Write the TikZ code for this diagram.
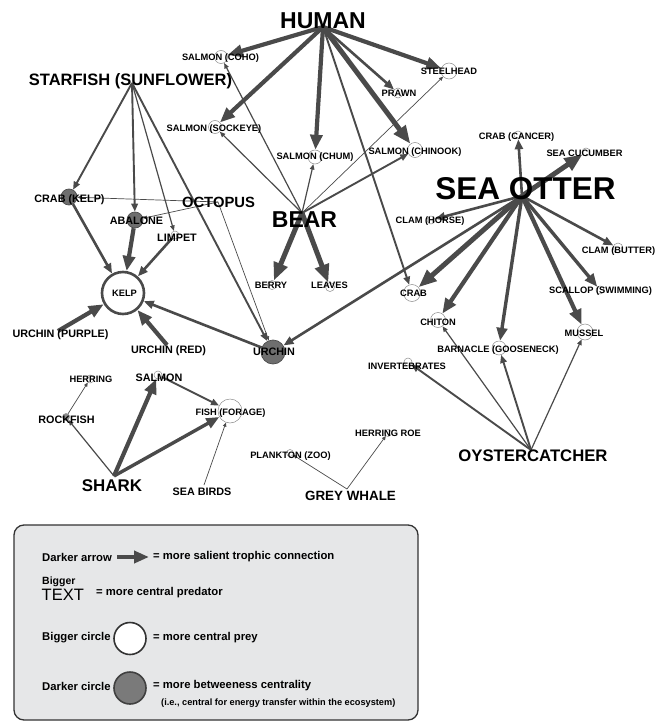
\documentclass[tikz,border=0pt]{standalone}
\usepackage{fontspec}
\setmainfont{Liberation Sans}
\usetikzlibrary{arrows.meta}
\definecolor{edgec}{HTML}{4A4A4A}
\definecolor{nodegray}{HTML}{6E6E6E}
\definecolor{rockgray}{HTML}{8C8C8C}
\definecolor{legbg}{HTML}{E6E7E8}
\definecolor{leggray}{HTML}{7A7A7A}
\begin{document}
\begin{tikzpicture}[x=1pt,y=-1pt,
  prey/.style={circle,draw=black!45,line width=0.5pt,fill=white,inner sep=0pt,minimum size=#1},
  darkprey/.style={circle,draw=black!70,line width=0.7pt,fill=nodegray,inner sep=0pt,minimum size=#1},
  lbl/.style={inner sep=0pt,font=\bfseries\fontsize{9.3}{10}\selectfont},
  lblm/.style={inner sep=0pt,font=\bfseries\fontsize{10.8}{12}\selectfont},
  predl/.style={inner sep=0pt,font=\bfseries\fontsize{#1}{#1}\selectfont},
  legt/.style={inner sep=0pt,anchor=west,font=\bfseries\fontsize{11.3}{12}\selectfont},
  w1/.style={draw=edgec,line width=0.7pt,-{Triangle[length=4pt,width=3.5pt]}},
  w2/.style={draw=edgec,line width=1.2pt,-{Triangle[length=5.5pt,width=4.5pt]}},
  w3/.style={draw=edgec,line width=1.9pt,-{Triangle[length=8pt,width=6.5pt]}},
  w4/.style={draw=edgec,line width=2.6pt,-{Triangle[length=10pt,width=8pt]}},
  w5/.style={draw=edgec,line width=3.4pt,-{Triangle[length=13pt,width=10.5pt]}},
  w6/.style={draw=edgec,line width=4.2pt,-{Triangle[length=15pt,width=12pt]}},
  w7/.style={draw=edgec,line width=5pt,-{Triangle[length=18pt,width=14pt]}}
]
\useasboundingbox (0,0) rectangle (662,725);

% hub points of predators
\coordinate (hHuman) at (323,27);
\coordinate (hBear) at (302,213);
\coordinate (hStar) at (132,83);
\coordinate (hOct) at (218,202);
\coordinate (hOtter) at (522,196);
\coordinate (hOyster) at (531,450);
\coordinate (hShark) at (114,476);
\coordinate (hPurple) at (58,331);
\coordinate (hRed) at (167,345);
\coordinate (hBirds) at (204,485);
\coordinate (hWhale) at (347,489);

% prey circles
\node[prey=13pt] (coho) at (221,57) {};
\node[prey=16pt] (steel) at (449,71) {};
\node[prey=10pt] (prawn) at (398,93) {};
\node[prey=13pt] (sock) at (215,127) {};
\node[prey=14pt] (chum) at (315,157) {};
\node[prey=15pt] (chin) at (415,150) {};
\node[prey=8pt] (cancer) at (518,135) {};
\node[prey=8pt] (cucum) at (586,152) {};
\node[prey=8pt] (horse) at (431,220) {};
\node[prey=10pt] (butter) at (618,248) {};
\node[prey=8pt] (scallop) at (600,290) {};
\node[prey=17pt] (crab) at (412,293) {};
\node[prey=15pt] (chiton) at (438,320) {};
\node[prey=16pt] (mussel) at (585,332) {};
\node[prey=14pt] (barn) at (499,348) {};
\node[prey=8pt] (invert) at (408,362) {};
\node[prey=7pt] (roe) at (388,433) {};
\node[prey=7pt] (plank) at (290,453) {};
\node[prey=24pt] (fish) at (230,411) {};
\node[prey=8pt] (salmon) at (158,375) {};
\node[prey=8pt] (herring) at (90,379) {};
\node[prey=7pt,fill=rockgray] (rock) at (66,417) {};
\node[darkprey=24pt] (urchin) at (273,352) {};
\node[prey=42pt,draw=edgec,line width=2.6pt] (kelp) at (123,293) {};
\node[darkprey=16pt] (crabk) at (69,197) {};
\node[darkprey=16pt] (abal) at (135,220) {};
\node[prey=8pt] (limpet) at (175,235) {};
\node[prey=9pt] (berry) at (272,285) {};
\node[prey=9pt] (leaves) at (330,287) {};

% connectors
\draw[w6] (hHuman) -- (coho);
\draw[w6] (hHuman) -- (sock);
\draw[w6] (hHuman) -- (chum);
\draw[w7] (hHuman) -- (chin);
\draw[w4] (hHuman) -- (prawn);
\draw[w6] (hHuman) -- (steel);
\draw[w3] (hHuman) -- (crab);

\draw[w2] (hBear) -- (coho);
\draw[w2] (hBear) -- (sock);
\draw[w2] (hBear) -- (chum);
\draw[w3] (hBear) -- (chin);
\draw[w1] (hBear) -- (steel);
\draw[w7] (hBear) -- (berry);
\draw[w7] (hBear) -- (leaves);

\draw[w3] (hStar) -- (crabk);
\draw[w3] (hStar) -- (abal);
\draw[w2] (hStar) -- (limpet);
\draw[w3] (hStar) -- (urchin);

\draw[w1] (hOct) -- (crabk);
\draw[w1] (hOct) -- (abal);
\draw[w1] (hOct) -- (urchin);

\draw[w4] (crabk) -- (kelp);
\draw[w6] (abal) -- (kelp);
\draw[w4] (limpet) -- (kelp);
\draw[w4] (urchin) -- (kelp);
\draw[w6] (hPurple) -- (kelp);
\draw[w6] (hRed) -- (kelp);

\draw[w4] (hOtter) -- (cancer);
\draw[w7] (hOtter) -- (cucum);
\draw[w4] (hOtter) -- (horse);
\draw[w4] (hOtter) -- (butter);
\draw[w5] (hOtter) -- (scallop);
\draw[w6] (hOtter) -- (mussel);
\draw[w5] (hOtter) -- (barn);
\draw[w6] (hOtter) -- (chiton);
\draw[w7] (hOtter) -- (crab);
\draw[w4] (hOtter) -- (urchin);

\draw[w3] (hOyster) -- (invert);
\draw[w2] (hOyster) -- (chiton);
\draw[w3] (hOyster) -- (barn);
\draw[w2] (hOyster) -- (mussel);

\draw[w2] (hShark) -- (rock);
\draw[w6] (hShark) -- (salmon);
\draw[w5] (hShark) -- (fish);
\draw[w3] (salmon) -- (fish);
\draw[w1] (rock) -- (herring);
\draw[w1] (hBirds) -- (fish);
\draw[w1] (hWhale) -- (plank);
\draw[w1] (hWhale) -- (roe);

% prey labels
\node[lbl] (lCoho) at (220.5,58) {SALMON (COHO)};
\node[lbl] (lSteel) at (449,71) {STEELHEAD};
\node[lbl] (lPrawn) at (399,93) {PRAWN};
\node[lbl] (lSock) at (214,129) {SALMON (SOCKEYE)};
\node[lbl] (lChum) at (315,157) {SALMON (CHUM)};
\node[lbl] (lChin) at (415,152) {SALMON (CHINOOK)};
\node[lbl] (lCancer) at (516.5,137) {CRAB (CANCER)};
\node[lbl] (lCucum) at (584.5,153) {SEA CUCUMBER};
\node[lbl] (lHorse) at (430,221) {CLAM (HORSE)};
\node[lbl] (lButter) at (618.5,251) {CLAM (BUTTER)};
\node[lbl] (lScallop) at (600.5,291) {SCALLOP (SWIMMING)};
\node[lbl] (lCrab) at (413.5,293) {CRAB};
\node[lbl] (lChiton) at (438,322) {CHITON};
\node[lbl] (lMussel) at (584,333) {MUSSEL};
\node[lbl] (lBarn) at (498,350) {BARNACLE (GOOSENECK)};
\node[lbl] (lInvert) at (407,366) {INVERTEBRATES};
\node[lbl] (lRoe) at (388,433) {HERRING ROE};
\node[lbl] (lPlank) at (290.5,456) {PLANKTON (ZOO)};
\node[lbl] (lFish) at (230.5,413) {FISH (FORAGE)};
\node[lblm] (lSalmon) at (159,378) {SALMON};
\node[lbl] (lHerring) at (91,379) {HERRING};
\node[lblm] (lRock) at (66.5,420) {ROCKFISH};
\node[lblm] (lUrchin) at (274,352) {URCHIN};
\node[lbl] (lKelp) at (124.5,293) {KELP};
\node[lblm] (lCrabk) at (69.5,200) {CRAB (KELP)};
\node[lblm] (lAbal) at (136.5,221) {ABALONE};
\node[lblm] (lLimpet) at (177,238) {LIMPET};
\node[lbl] (lBerry) at (271,285) {BERRY};
\node[lbl] (lLeaves) at (329.5,285) {LEAVES};

% predator labels
\node[predl=23] (tHuman) at (323,21) {HUMAN};
\node[predl=16.5] (tStar) at (130.5,81) {STARFISH (SUNFLOWER)};
\node[predl=23] (tBear) at (304.5,220) {BEAR};
\node[predl=14.8] (tOct) at (218.5,202) {OCTOPUS};
\node[predl=31.5] (tOtter) at (525.5,189) {SEA OTTER};
\node[predl=16.7] (tOyster) at (533,456) {OYSTERCATCHER};
\node[predl=16.9] (tShark) at (112,486) {SHARK};
\node[predl=13.4] (tWhale) at (350.5,496) {GREY WHALE};
\node[lblm] (tPurple) at (60.5,335) {URCHIN (PURPLE)};
\node[lblm] (tRed) at (168.5,351) {URCHIN (RED)};
\node[lblm] (tBirds) at (202,492) {SEA BIRDS};

% legend
\node[draw=black!80,line width=1.3pt,fill=legbg,rounded corners=10pt,
      minimum width=404pt,minimum height=195pt,inner sep=0pt] (legend) at (216,622.5) {};
\node[legt] (lg1) at (42,557) {Darker arrow};
\coordinate (la1) at (117,557);
\coordinate (la2) at (149,557);
\draw[w6] (la1) -- (la2);
\node[legt] (lg1b) at (153,557) {= more salient trophic connection};
\node[inner sep=0pt,anchor=west,font=\bfseries\fontsize{10.5}{11}\selectfont] (lg2a) at (42,582) {Bigger};
\node[inner sep=0pt,anchor=west,font=\fontsize{16.5}{17}\selectfont] (lg2b) at (41.5,595) {TEXT};
\node[legt] (lg2c) at (96,593) {= more central predator};
\node[legt] (lg3) at (42,638) {Bigger circle};
\node[circle,draw=black!80,line width=1.6pt,fill=white,minimum size=32pt,inner sep=0pt] (lgc1) at (130,638.5) {};
\node[legt] (lg3b) at (153,638) {= more central prey};
\node[legt] (lg4) at (42,686) {Darker circle};
\node[circle,draw=black!75,line width=1.6pt,fill=leggray,minimum size=32pt,inner sep=0pt] (lgc2) at (130,688) {};
\node[legt] (lg4b) at (153,686) {= more betweeness centrality};
\node[inner sep=0pt,anchor=west,font=\bfseries\fontsize{9.2}{10}\selectfont] (lg4c) at (161,703) {(i.e., central for energy transfer within the ecosystem)};
\end{tikzpicture}
\end{document}
